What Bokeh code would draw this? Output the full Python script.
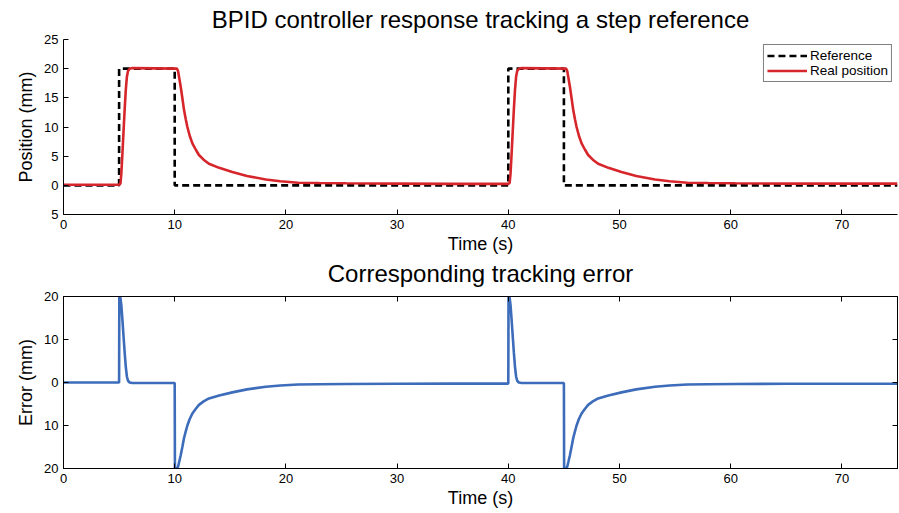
from bokeh.plotting import figure
from bokeh.layouts import column
from bokeh.models import Range1d, FixedTicker, LinearAxis, Legend, LegendItem
from bokeh.embed import file_html
from bokeh.resources import INLINE

# ---------------- data ----------------
ref_t = [0, 5, 5, 10, 10, 40, 40, 45, 45, 75]
ref_v = [0, 0, 20, 20, 0, 0, 20, 20, 0, 0]

pos_t = [0.0, 5.0, 5.12, 5.2, 5.3, 5.4, 5.5, 5.6, 5.7, 5.8, 5.95, 6.2,
         10.2, 10.3, 10.4, 10.54, 10.7, 10.84, 11.0, 11.14, 11.35, 11.59, 11.9,
         12.18, 12.6, 13.08, 14.0, 15.18, 16.5, 18.2, 19.5, 21.1, 23.0, 25.4,
         30.0, 35.0,
         40.0, 40.12, 40.2, 40.3, 40.4, 40.5, 40.6, 40.7, 40.8, 40.95, 41.2,
         45.2, 45.3, 45.4, 45.54, 45.7, 45.84, 46.0, 46.14, 46.35, 46.59, 46.9,
         47.18, 47.6, 48.08, 49.0, 50.18, 51.5, 53.2, 54.5, 56.1, 58.0, 60.4,
         65.0, 70.0, 75.0]
pos_v = [0.1, 0.1, 0.3, 2.0, 5.5, 9.3, 13.0, 16.3, 18.6, 19.6, 20.0, 20.1,
         20.0, 19.6, 18.5, 16.9, 14.8, 12.9, 11.3, 10.0, 8.5, 7.2, 6.1,
         5.2, 4.4, 3.7, 3.0, 2.3, 1.6, 1.0, 0.7, 0.45, 0.4, 0.35,
         0.3, 0.25,
         0.25, 0.4, 2.0, 5.5, 9.3, 13.0, 16.3, 18.6, 19.6, 20.0, 20.1,
         20.0, 19.6, 18.5, 16.9, 14.8, 12.9, 11.3, 10.0, 8.5, 7.2, 6.1,
         5.2, 4.4, 3.7, 3.0, 2.3, 1.6, 1.0, 0.7, 0.45, 0.4, 0.35,
         0.3, 0.3, 0.3]

err_t = [0.0, 5.0, 5.02, 5.12, 5.2, 5.3, 5.4, 5.5, 5.6, 5.7, 5.8, 5.95, 6.2,
         10.0, 10.02, 10.2, 10.3, 10.4, 10.54, 10.7, 10.84, 11.0, 11.14, 11.35,
         11.59, 11.9, 12.18, 12.6, 13.08, 14.0, 15.18, 16.5, 18.2, 19.5, 21.1,
         23.0, 25.4, 30.0, 35.0,
         40.0, 40.02, 40.12, 40.2, 40.3, 40.4, 40.5, 40.6, 40.7, 40.8, 40.95, 41.2,
         45.0, 45.02, 45.2, 45.3, 45.4, 45.54, 45.7, 45.84, 46.0, 46.14, 46.35,
         46.59, 46.9, 47.18, 47.6, 48.08, 49.0, 50.18, 51.5, 53.2, 54.5, 56.1,
         58.0, 60.4, 65.0, 70.0, 75.0]
err_v = [0.0, 0.0, 20.0, 19.7, 18.0, 14.5, 10.7, 7.0, 3.7, 1.4, 0.4, 0.0, -0.1,
         -0.1, -20.0, -20.0, -19.6, -18.5, -16.9, -14.8, -12.9, -11.3, -10.0, -8.5,
         -7.2, -6.1, -5.2, -4.4, -3.7, -3.0, -2.3, -1.6, -1.0, -0.7, -0.45,
         -0.4, -0.35, -0.3, -0.25,
         -0.25, 20.0, 19.7, 18.0, 14.5, 10.7, 7.0, 3.7, 1.4, 0.4, 0.0, -0.1,
         -0.1, -20.0, -20.0, -19.6, -18.5, -16.9, -14.8, -12.9, -11.3, -10.0, -8.5,
         -7.2, -6.1, -5.2, -4.4, -3.7, -3.0, -2.3, -1.6, -1.0, -0.7, -0.45,
         -0.4, -0.35, -0.3, -0.3, -0.3]

x_ticks = [0, 10, 20, 30, 40, 50, 60, 70]
pos_ticks = [-5, 0, 5, 10, 15, 20, 25]
pos_tick_labels = {-5: "5", 0: "0", 5: "5", 10: "10", 15: "15", 20: "20", 25: "25"}
err_ticks = [-20, -10, 0, 10, 20]
err_tick_labels = {-20: "20", -10: "10", 0: "0", 10: "10", 20: "20"}

FONT = "Liberation Sans"
RED = "#d7262b"
BLUE = "#3c6cba"


def style_axis(ax, labels=True):
    ax.major_tick_in = 5
    ax.major_tick_out = 0
    ax.minor_tick_line_color = None
    ax.axis_line_color = "black"
    ax.axis_line_width = 1
    ax.major_tick_line_color = "black"
    ax.major_label_text_font = FONT
    ax.major_label_text_font_size = "13px"
    ax.major_label_text_color = "black"
    ax.axis_label_text_font = FONT
    ax.axis_label_text_font_size = "18px"
    ax.axis_label_text_font_style = "normal"
    ax.axis_label_text_color = "black"
    if not labels:
        ax.major_label_overrides = {t: "" for t in ax.ticker.ticks}
        ax.major_label_text_font_size = "1px"
        ax.major_label_standoff = 0


def style_title(t, standoff):
    t.text_font = FONT
    t.text_font_size = "24px"
    t.text_font_style = "normal"
    t.text_color = "black"
    t.align = "center"
    t.offset = 0
    t.standoff = standoff


# ---------------- top plot ----------------
p1 = figure(width=899, height=259, output_backend="svg", toolbar_location=None,
            x_range=Range1d(0, 75), y_range=Range1d(-5, 25),
            min_border_left=63, min_border_right=2, min_border_top=40,
            min_border_bottom=42,
            title="BPID controller response tracking a step reference")
p1.margin = (-3, 0, 0, 0)
style_title(p1.title, 13)
p1.outline_line_color = None
p1.grid.visible = False
p1.background_fill_color = "white"
p1.border_fill_color = "white"

p1.xaxis.ticker = FixedTicker(ticks=x_ticks)
p1.yaxis.ticker = FixedTicker(ticks=pos_ticks)
p1.yaxis.major_label_overrides = pos_tick_labels
p1.xaxis.axis_label = "Time (s)"
p1.yaxis.axis_label = "Position (mm)"
style_axis(p1.xaxis[0])
style_axis(p1.yaxis[0])
p1.xaxis.axis_label_standoff = 2
p1.yaxis.axis_label_standoff = 5

r_ref = p1.line(ref_t, ref_v, line_color="black", line_width=2.6, line_dash="7 4")
r_pos = p1.line(pos_t, pos_v, line_color=RED, line_width=2.6)

legend = Legend(items=[LegendItem(label="Reference", renderers=[r_ref]),
                       LegendItem(label="Real position", renderers=[r_pos])],
                location="top_right")
legend.label_text_font = FONT
legend.label_text_font_size = "13.5px"
legend.label_text_color = "black"
legend.border_line_color = "black"
legend.border_line_width = 1
legend.glyph_width = 40
legend.glyph_height = 15
legend.label_height = 15
legend.label_standoff = 3
legend.spacing = 0
legend.padding = 3
legend.margin = 5
legend.background_fill_alpha = 1
p1.add_layout(legend)

# ---------------- bottom plot ----------------
p2 = figure(width=899, height=265, output_backend="svg", toolbar_location=None,
            x_range=Range1d(0, 75), y_range=Range1d(-20, 20),
            min_border_left=63, min_border_right=2, min_border_top=40,
            min_border_bottom=45,
            title="Corresponding tracking error")
p2.margin = (-8, 0, 0, 0)
style_title(p2.title, 19)
p2.outline_line_color = "black"
p2.outline_line_width = 1
p2.grid.visible = False
p2.border_fill_color = None
p2.border_fill_alpha = 0
p2.background_fill_color = "white"

p2.xaxis.ticker = FixedTicker(ticks=x_ticks)
p2.yaxis.ticker = FixedTicker(ticks=err_ticks)
p2.yaxis.major_label_overrides = err_tick_labels
p2.xaxis.axis_label = "Time (s)"
p2.yaxis.axis_label = "Error (mm)"
style_axis(p2.xaxis[0])
style_axis(p2.yaxis[0])
p2.xaxis.axis_label_standoff = 2
p2.yaxis.axis_label_standoff = 5

ax_top = LinearAxis(ticker=FixedTicker(ticks=x_ticks))
style_axis(ax_top, labels=False)
p2.add_layout(ax_top, "above")
ax_right = LinearAxis(ticker=FixedTicker(ticks=err_ticks))
style_axis(ax_right, labels=False)
p2.add_layout(ax_right, "right")

p2.line(err_t, err_v, line_color=BLUE, line_width=2.6)

layout = column(p1, p2, spacing=0)
open("out.html", "w").write(file_html(layout, INLINE))
